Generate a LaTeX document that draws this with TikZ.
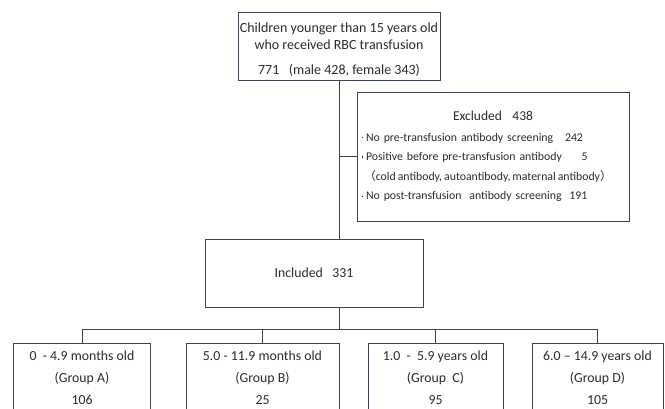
\documentclass[tikz,border=0pt]{standalone}
\usepackage{fontspec}
\setmainfont{Carlito}
\newfontfamily\cjk{Noto Sans CJK JP}
\usetikzlibrary{positioning,calc}
\definecolor{boxline}{HTML}{3C4452}
\definecolor{boxtext}{HTML}{2B2B2B}
\tikzstyle{box}=[draw=boxline,rectangle,line width=0.9pt,text=boxtext,
                inner sep=1pt,align=center]
\tikzstyle{link}=[draw=boxline,line width=0.9pt]
\tikzstyle{grp}=[box,anchor=north,minimum height=69pt,
                font=\fontsize{13.8}{22}\selectfont]
\newcommand{\itm}{\hspace{2.5pt}\rule[2.8pt]{1.2pt}{1.4pt}\hspace{3.3pt}}

\begin{document}
\begin{tikzpicture}[x=1pt,y=-1pt]

% % % % % % % % % % % % % % %

\useasboundingbox (0,0) rectangle (665,409);
\clip (0,0) rectangle (665,409);

\node[box,minimum width=202pt,minimum height=68pt,
      font=\fontsize{14}{17.5}\selectfont] (top) at (339,46)
  {\rule{0pt}{17pt}Children younger than 15 years old\\ who received RBC transfusion\\[7.5pt]
   771~~ (male 428, female 343)};

\node[box,minimum width=272pt,minimum height=129pt,text width=268pt,
      align=left,font=\fontsize{11.8}{19.6}\selectfont] (excl) at (493,156.5)
  {\makebox[268pt]{\fontsize{13.5}{16}\selectfont Excluded\hspace{10.5pt}438}\\[1pt]
   \itm No pre-transfusion antibody screening~~~242\\
   \itm Positive before pre-transfusion antibody~~~~~5\\
   \hspace{5pt}{\cjk （}cold\hspace{2pt}antibody,\hspace{2pt}autoantibody,\hspace{2pt}maternal\hspace{2pt}antibody{\cjk ）}\\
   \itm No post-transfusion~ antibody screening~~191};

\node[box,minimum width=218pt,minimum height=68pt,
      font=\fontsize{13.8}{17}\selectfont] (incl) at (314,273)
  {Included~~~331};

\node[grp,minimum width=137pt] (grpA) at (82,343)
  {0~ - 4.9 months old\\ (Group A)\\ 106};
\node[grp,minimum width=153pt] (grpB) at (262.5,343)
  {5.0 - 11.9 months old\\ (Group B)\\ 25};
\node[grp,minimum width=135pt] (grpC) at (435.5,343)
  {1.0~ -~ 5.9 years old\\ (Group~ C)\\ 95};
\node[grp,minimum width=131pt] (grpD) at (597.5,343)
  {6.0 -- 14.9 years old\\ (Group D)\\ 105};

\coordinate (bus) at (339,329);

\draw[link] (top.south) -- (top.south |- incl.north);
\draw[link] (top.south |- excl.west) -- (excl.west);
\draw[link] (top.south |- incl.south) -- (bus);
\draw[link] (grpA.north) -- (grpA.north |- bus) -- (grpD.north |- bus)
            -- (grpD.north);
\draw[link] (grpB.north) -- (grpB.north |- bus);
\draw[link] (grpC.north) -- (grpC.north |- bus);

\end{tikzpicture}
\end{document}
